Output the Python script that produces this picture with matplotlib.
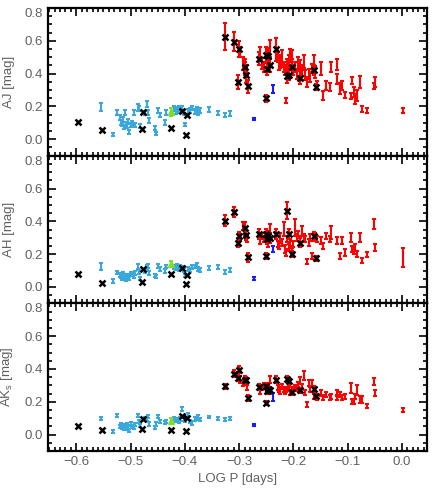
import matplotlib
matplotlib.use('Agg')
import matplotlib.pyplot as plt
from matplotlib.ticker import MultipleLocator, FixedLocator

# ---------------- data ----------------
# light-blue stars
lb_logp = [-0.554, -0.532, -0.525, -0.520, -0.518, -0.516, -0.514, -0.512, -0.510, -0.508,
           -0.506, -0.504, -0.502, -0.500, -0.497, -0.494, -0.491, -0.487, -0.484, -0.482,
           -0.474, -0.470, -0.468, -0.466, -0.455, -0.453, -0.449, -0.445, -0.437, -0.435,
           -0.420, -0.417, -0.414, -0.411, -0.408, -0.405, -0.402, -0.399, -0.394, -0.390,
           -0.386, -0.382, -0.378, -0.376, -0.372, -0.356, -0.338, -0.326, -0.316]
lb_aj = [0.195, 0.031, 0.165, 0.133, 0.105, 0.090, 0.120, 0.075, 0.165, 0.095,
         0.080, 0.110, 0.045, 0.085, 0.100, 0.165, 0.085, 0.195, 0.185, 0.080,
         0.160, 0.215, 0.165, 0.113, 0.066, 0.037, 0.174, 0.148, 0.103, 0.164,
         0.185, 0.170, 0.180, 0.190, 0.175, 0.185, 0.165, 0.092, 0.170, 0.175,
         0.190, 0.170, 0.180, 0.165, 0.175, 0.181, 0.160, 0.150, 0.158]
lb_ej = [0.025, 0.008, 0.015, 0.015, 0.015, 0.012, 0.015, 0.012, 0.015, 0.012,
         0.012, 0.015, 0.010, 0.012, 0.012, 0.015, 0.012, 0.020, 0.015, 0.012,
         0.015, 0.020, 0.015, 0.015, 0.012, 0.010, 0.015, 0.015, 0.015, 0.015,
         0.015, 0.015, 0.015, 0.015, 0.015, 0.015, 0.015, 0.010, 0.015, 0.015,
         0.012, 0.015, 0.015, 0.015, 0.015, 0.015, 0.012, 0.012, 0.015]
lb_ah = [0.124, 0.037, 0.088, 0.075, 0.068, 0.055, 0.080, 0.060, 0.070, 0.045,
         0.065, 0.070, 0.050, 0.080, 0.075, 0.065, 0.085, 0.125, 0.090, 0.050,
         0.100, 0.120, 0.128, 0.085, 0.070, 0.065, 0.128, 0.112, 0.098, 0.125,
         0.120, 0.115, 0.130, 0.110, 0.120, 0.115, 0.105, 0.070, 0.110, 0.105,
         0.120, 0.125, 0.135, 0.110, 0.105, 0.118, 0.124, 0.092, 0.104]
lb_eh = [0.020, 0.010, 0.010, 0.012, 0.012, 0.010, 0.012, 0.010, 0.012, 0.010,
         0.012, 0.010, 0.010, 0.012, 0.010, 0.012, 0.012, 0.015, 0.012, 0.010,
         0.012, 0.015, 0.012, 0.010, 0.010, 0.010, 0.012, 0.012, 0.010, 0.012,
         0.012, 0.012, 0.012, 0.012, 0.012, 0.012, 0.012, 0.010, 0.012, 0.012,
         0.012, 0.012, 0.012, 0.012, 0.012, 0.012, 0.012, 0.010, 0.012]
lb_ak = [0.096, 0.020, 0.116, 0.050, 0.060, 0.045, 0.055, 0.035, 0.050, 0.040,
         0.060, 0.045, 0.025, 0.065, 0.050, 0.045, 0.060, 0.118, 0.080, 0.055,
         0.100, 0.095, 0.110, 0.065, 0.045, 0.065, 0.112, 0.080, 0.075, 0.080,
         0.100, 0.090, 0.085, 0.080, 0.095, 0.156, 0.090, 0.085, 0.120, 0.080,
         0.070, 0.095, 0.100, 0.110, 0.092, 0.108, 0.096, 0.091, 0.100]
lb_ek = [0.010, 0.010, 0.008, 0.010, 0.012, 0.010, 0.010, 0.010, 0.010, 0.010,
         0.010, 0.012, 0.010, 0.010, 0.010, 0.010, 0.010, 0.010, 0.010, 0.010,
         0.010, 0.012, 0.010, 0.010, 0.010, 0.010, 0.010, 0.010, 0.010, 0.010,
         0.010, 0.012, 0.010, 0.010, 0.010, 0.012, 0.010, 0.010, 0.010, 0.010,
         0.010, 0.010, 0.010, 0.012, 0.010, 0.008, 0.010, 0.010, 0.010]

# red stars
rd_logp = [-0.299, -0.293, -0.289, -0.286, -0.261, -0.258, -0.255, -0.246, -0.244, -0.229,
           -0.227, -0.224, -0.221, -0.218, -0.215, -0.213, -0.212, -0.209, -0.206, -0.203,
           -0.200, -0.197, -0.194, -0.191, -0.187, -0.184, -0.181, -0.178, -0.175, -0.172,
           -0.169, -0.166, -0.163, -0.160, -0.157, -0.149, -0.145, -0.140, -0.133, -0.131,
           -0.120, -0.119, -0.114, -0.110, -0.105, -0.094, -0.092, -0.089, -0.086, -0.083,
           -0.078, -0.074, -0.065, -0.051, -0.049, 0.002]
rd_aj = [0.533, 0.462, 0.441, 0.420, 0.523, 0.462, 0.441, 0.482, 0.554, 0.503,
         0.451, 0.472, 0.492, 0.441, 0.420, 0.236, 0.451, 0.472, 0.513, 0.492,
         0.420, 0.441, 0.400, 0.462, 0.451, 0.420, 0.472, 0.390, 0.349, 0.400,
         0.380, 0.431, 0.482, 0.410, 0.328, 0.431, 0.267, 0.328, 0.318, 0.441,
         0.369, 0.456, 0.308, 0.328, 0.271, 0.263, 0.359, 0.287, 0.246, 0.267,
         0.349, 0.185, 0.174, 0.324, 0.349, 0.174]
rd_ej = [0.030, 0.040, 0.030, 0.030, 0.040, 0.035, 0.030, 0.030, 0.050, 0.030,
         0.030, 0.040, 0.050, 0.030, 0.030, 0.015, 0.040, 0.040, 0.040, 0.050,
         0.030, 0.030, 0.030, 0.040, 0.030, 0.035, 0.040, 0.030, 0.030, 0.030,
         0.030, 0.030, 0.030, 0.035, 0.030, 0.040, 0.030, 0.030, 0.025, 0.030,
         0.030, 0.035, 0.035, 0.030, 0.020, 0.020, 0.020, 0.030, 0.030, 0.035,
         0.035, 0.020, 0.015, 0.020, 0.030, 0.015]
rd_ah = [0.300, 0.373, 0.322, 0.292, 0.282, 0.312, 0.292, 0.261, 0.353, 0.261,
         0.251, 0.302, 0.271, 0.353, 0.231, 0.210, 0.292, 0.241, 0.271, 0.220,
         0.261, 0.363, 0.302, 0.322, 0.292, 0.343, 0.302, 0.292, 0.153, 0.271,
         0.302, 0.190, 0.312, 0.312, 0.292, 0.282, 0.251, 0.312, 0.292, 0.333,
         0.282, 0.282, 0.190, 0.282, 0.210, 0.302, 0.231, 0.220, 0.241, 0.200,
         0.302, 0.159, 0.200, 0.384, 0.241, 0.180]
rd_eh = [0.020, 0.025, 0.020, 0.020, 0.020, 0.020, 0.020, 0.020, 0.030, 0.020,
         0.020, 0.025, 0.020, 0.040, 0.025, 0.020, 0.020, 0.020, 0.020, 0.020,
         0.020, 0.050, 0.020, 0.020, 0.020, 0.030, 0.020, 0.020, 0.015, 0.020,
         0.020, 0.020, 0.025, 0.020, 0.020, 0.020, 0.020, 0.020, 0.020, 0.040,
         0.020, 0.020, 0.020, 0.020, 0.020, 0.030, 0.020, 0.020, 0.020, 0.020,
         0.030, 0.015, 0.015, 0.030, 0.020, 0.060]
rd_ak = [0.335, 0.315, 0.345, 0.285, 0.264, 0.285, 0.300, 0.295, 0.335, 0.285,
         0.274, 0.264, 0.295, 0.274, 0.264, 0.274, 0.278, 0.285, 0.258, 0.274,
         0.264, 0.285, 0.278, 0.305, 0.331, 0.295, 0.360, 0.254, 0.183, 0.315,
         0.274, 0.315, 0.234, 0.274, 0.224, 0.254, 0.224, 0.244, 0.224, 0.234,
         0.254, 0.224, 0.244, 0.224, 0.234, 0.285, 0.203, 0.203, 0.234, 0.274,
         0.213, 0.213, 0.173, 0.325, 0.254, 0.152]
rd_ek = [0.020, 0.020, 0.015, 0.015, 0.015, 0.015, 0.015, 0.015, 0.020, 0.015,
         0.015, 0.015, 0.015, 0.015, 0.015, 0.015, 0.015, 0.015, 0.015, 0.015,
         0.015, 0.015, 0.015, 0.015, 0.020, 0.015, 0.030, 0.015, 0.015, 0.020,
         0.015, 0.020, 0.015, 0.015, 0.015, 0.020, 0.015, 0.015, 0.015, 0.015,
         0.020, 0.015, 0.015, 0.015, 0.015, 0.030, 0.015, 0.015, 0.015, 0.030,
         0.020, 0.020, 0.012, 0.020, 0.020, 0.012]

# green star
gr_logp = [-0.426]
gr_aj, gr_ej = [0.164], [0.025]
gr_ah, gr_eh = [0.140], [0.020]
gr_ak, gr_ek = [0.085], [0.015]

# dark-blue stars
db_logp = [-0.273, -0.238]
db_aj, db_ej = [0.123, 0.305], [0.008, 0.025]
db_ah, db_eh = [0.051, 0.231], [0.007, 0.020]
db_ak, db_ek = [0.061, 0.228], [0.006, 0.025]

# stars marked with black crosses
xm_logp = [-0.597, -0.553, -0.477, -0.479, -0.425, -0.405, -0.396, -0.398, -0.326, -0.310,
           -0.301, -0.303, -0.290, -0.287, -0.284, -0.264, -0.251, -0.247, -0.249, -0.243,
           -0.232, -0.251, -0.211, -0.209, -0.203, -0.187, -0.163, -0.159]
xm_aj = [0.107, 0.055, 0.164, 0.062, 0.070, 0.174, 0.150, 0.025, 0.626, 0.595,
         0.550, 0.349, 0.441, 0.390, 0.322, 0.492, 0.513, 0.509, 0.431, 0.451,
         0.550, 0.250, 0.386, 0.390, 0.441, 0.375, 0.421, 0.318]
xm_ej = [0, 0, 0, 0, 0, 0, 0, 0, 0.080, 0.060,
         0.050, 0.040, 0.050, 0.050, 0.040, 0.040, 0.050, 0.050, 0.040, 0.040,
         0.070, 0.020, 0.040, 0.030, 0.050, 0.040, 0.030, 0.020]
xm_ah = [0.078, 0.022, 0.108, 0.031, 0.078, 0.118, 0.071, 0.020, 0.404, 0.459,
         0.308, 0.271, 0.357, 0.316, 0.180, 0.322, 0.325, 0.310, 0.290, 0.300,
         0.322, 0.190, 0.465, 0.322, 0.200, 0.271, 0.308, 0.176]
xm_eh = [0, 0, 0, 0, 0, 0, 0, 0, 0.035, 0.030,
         0.030, 0.030, 0.040, 0.030, 0.025, 0.030, 0.030, 0.030, 0.030, 0.030,
         0.030, 0.020, 0.050, 0.030, 0.020, 0.025, 0.025, 0.015]
xm_ak = [0.051, 0.030, 0.096, 0.035, 0.030, 0.116, 0.104, 0.020, 0.295, 0.372,
         0.396, 0.346, 0.335, 0.330, 0.224, 0.291, 0.295, 0.275, 0.265, 0.270,
         0.335, 0.193, 0.340, 0.325, 0.258, 0.270, 0.278, 0.234]
xm_ek = [0, 0, 0, 0, 0, 0, 0, 0, 0.015, 0.020,
         0.020, 0.020, 0.020, 0.020, 0.020, 0.020, 0.020, 0.020, 0.020, 0.020,
         0.020, 0.012, 0.020, 0.020, 0.015, 0.015, 0.020, 0.015]

ylabels = ['AJ [mag]', 'AH [mag]', r'AK$_{\rm s}$ [mag]']
xlabel = 'LOG P [days]'

# ---------------- plotting ----------------
plt.rcParams['font.family'] = ['Liberation Sans', 'DejaVu Sans']
plt.rcParams['mathtext.fontset'] = 'custom'
plt.rcParams['mathtext.rm'] = 'Liberation Sans'
gray = '#606060'
c_lb = '#3aa8dc'
c_rd = '#ff0000'
c_gr = '#80e020'
c_db = '#1a1aff'

fig = plt.figure(figsize=(4.36, 4.91), dpi=100)
left, right = 48 / 436, 427 / 436
tops = [8, 155.7, 303.3]
h = 147.7
axes = []
for t in tops:
    ax = fig.add_axes([left, 1 - (t + h) / 491, right - left, h / 491])
    axes.append(ax)

bands = [
    (lb_aj, lb_ej, rd_aj, rd_ej, gr_aj, gr_ej, db_aj, db_ej, xm_aj, xm_ej),
    (lb_ah, lb_eh, rd_ah, rd_eh, gr_ah, gr_eh, db_ah, db_eh, xm_ah, xm_eh),
    (lb_ak, lb_ek, rd_ak, rd_ek, gr_ak, gr_ek, db_ak, db_ek, xm_ak, xm_ek),
]

ekw = dict(fmt='none', elinewidth=1.5, capsize=1.6, capthick=1.5)
for i, ax in enumerate(axes):
    lb, elb, rd, erd, gr, egr, db, edb, xm, exm = bands[i]
    ax.errorbar(lb_logp, lb, yerr=elb, ecolor=c_lb, **ekw)
    ax.errorbar(rd_logp, rd, yerr=erd, ecolor=c_rd, **ekw)
    xr = [p for p, e in zip(xm_logp, exm) if e > 0]
    yr = [v for v, e in zip(xm, exm) if e > 0]
    er = [e for e in exm if e > 0]
    ax.errorbar(xr, yr, yerr=er, ecolor=c_rd, **ekw)
    ax.errorbar(gr_logp, gr, yerr=egr, ecolor=c_gr, **ekw)
    ax.plot(gr_logp, gr, marker='^', ms=4, color=c_gr, ls='none')
    ax.errorbar(db_logp, db, yerr=edb, ecolor=c_db, **ekw)
    ax.plot(xm_logp, xm, ls='none', marker='x', ms=4.6, mew=1.8, color='black')

    ax.set_xlim(-0.652, 0.046)
    ax.set_ylim(-0.1, 0.8)
    ax.yaxis.set_major_locator(FixedLocator([0.0, 0.2, 0.4, 0.6, 0.8]))
    ax.yaxis.set_minor_locator(MultipleLocator(0.05))
    ax.xaxis.set_major_locator(MultipleLocator(0.1))
    ax.xaxis.set_minor_locator(MultipleLocator(0.01))
    ax.tick_params(which='both', direction='in', top=True, right=True, color='black',
                   labelcolor=gray, labelsize=9.5, width=1.2)
    ax.tick_params(which='major', length=6)
    ax.tick_params(which='minor', length=3)
    for s in ax.spines.values():
        s.set_linewidth(1.6)
    ax.set_yticklabels(['0.0', '0.2', '0.4', '0.6', '0.8'])
    ax.yaxis.get_major_ticks()[-1].label1.set_verticalalignment('top')
    ax.set_ylabel(ylabels[i], color=gray, fontsize=9.5)
    ax.yaxis.set_label_coords(-0.086, 0.5)
    if i < 2:
        ax.tick_params(labelbottom=False)
    else:
        ax.set_xlabel(xlabel, color=gray, fontsize=9.5, labelpad=4)

fig.savefig('out.png', dpi=100)
